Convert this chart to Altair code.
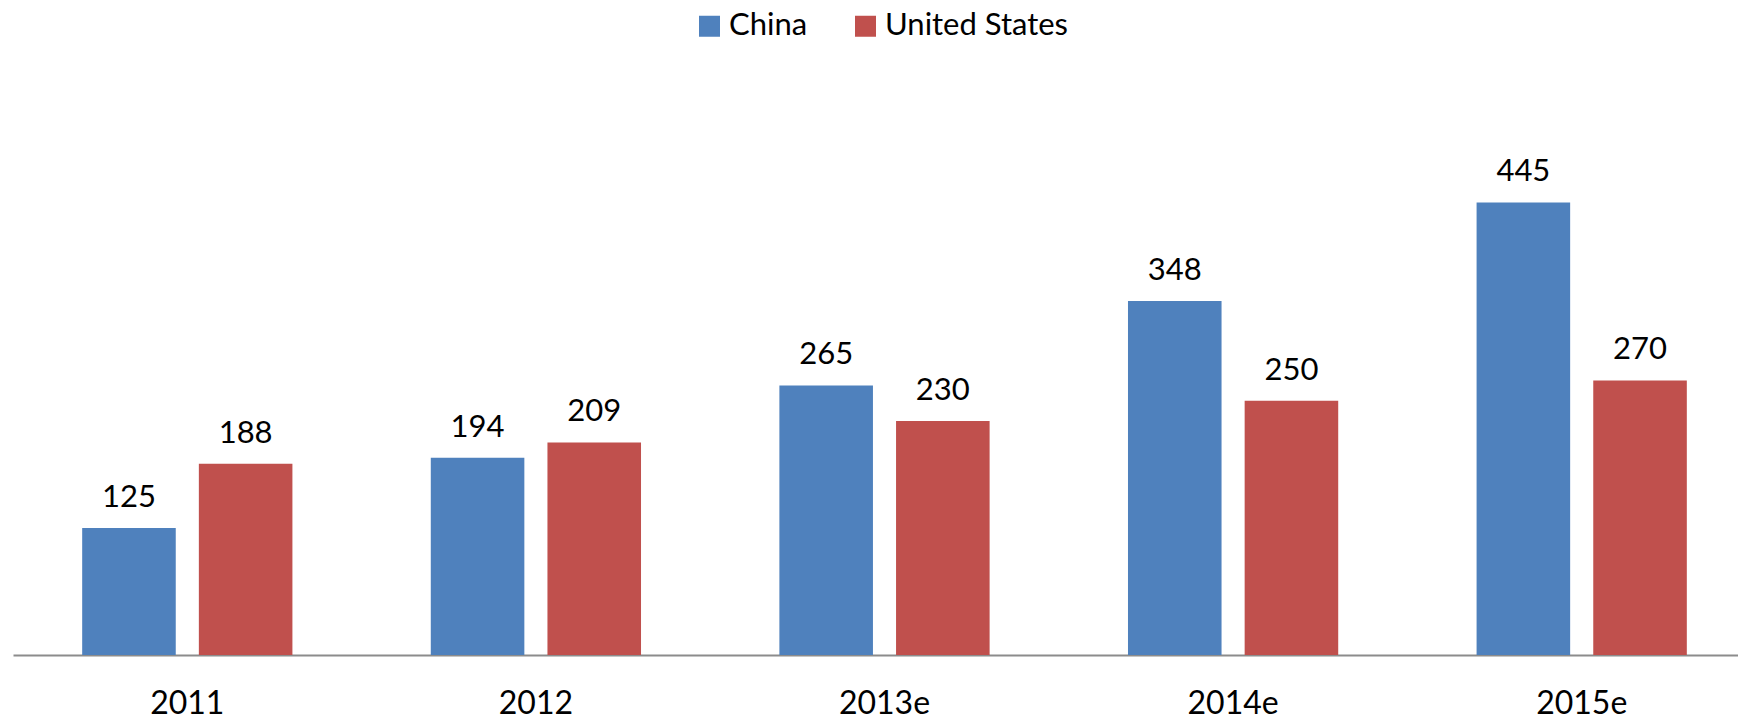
import altair as alt
import pandas as pd

years = ["2011", "2012", "2013e", "2014e", "2015e"]
series = ["China", "United States"]
china = [125, 194, 265, 348, 445]
us = [188, 209, 230, 250, 270]
colors = ["#4F81BD", "#C0504D"]

rows = []
for i, y in enumerate(years):
    rows.append({"year": y, "country": "China", "value": china[i]})
    rows.append({"year": y, "country": "United States", "value": us[i]})
df = pd.DataFrame(rows)

FONT = "Lato"

x_enc = alt.X(
    "year:N",
    sort=years,
    title=None,
    scale=alt.Scale(range=[0, 1743], paddingInner=0, paddingOuter=0),
    axis=alt.Axis(
        labelAngle=0,
        labelFont=FONT,
        labelFontSize=32,
        labelColor="#000000",
        labelBaseline="alphabetic",
        labelPadding=58,
        ticks=False,
        tickSize=0,
        domainColor="#8c8c8c",
        domainWidth=2,
        grid=False,
    ),
)
xoff = alt.XOffset(
    "country:N",
    sort=series,
    scale=alt.Scale(paddingInner=0.198, paddingOuter=0.593),
)
y_enc = alt.Y(
    "value:Q",
    scale=alt.Scale(domain=[0, 500], nice=False),
    axis=None,
)

bars = alt.Chart(df).mark_bar().encode(
    x=x_enc,
    xOffset=xoff,
    y=y_enc,
    color=alt.Color(
        "country:N",
        sort=series,
        scale=alt.Scale(domain=series, range=colors),
        legend=alt.Legend(
            title=None,
            orient="none",
            legendX=681,
            legendY=-136,
            direction="horizontal",
            columns=2,
            symbolType="square",
            symbolSize=441,
            symbolStrokeWidth=0,
            symbolOpacity=1,
            labelFont=FONT,
            labelFontSize=31,
            labelColor="#000000",
            labelOffset=4,
            labelLimit=500,
            columnPadding=42,
            padding=0,
        ),
    ),
)

labels = alt.Chart(df).mark_text(
    baseline="alphabetic",
    align="center",
    dy=-21,
    font=FONT,
    fontSize=31,
    color="#000000",
).encode(
    x=alt.X("year:N", sort=years),
    xOffset=alt.XOffset("country:N", sort=series),
    y=alt.Y("value:Q", axis=None),
    text=alt.Text("value:Q"),
)

chart = (
    alt.layer(bars, labels)
    .properties(
        width=1725,
        height=508.5,
        background="white",
        autosize=alt.AutoSizeParams(type="none"),
        padding={"left": 5, "top": 138.5, "right": 0, "bottom": 62},
    )
    .configure_view(stroke=None, strokeWidth=0)
)

chart.save("out.html", embed_options={"renderer": "svg", "actions": False})
